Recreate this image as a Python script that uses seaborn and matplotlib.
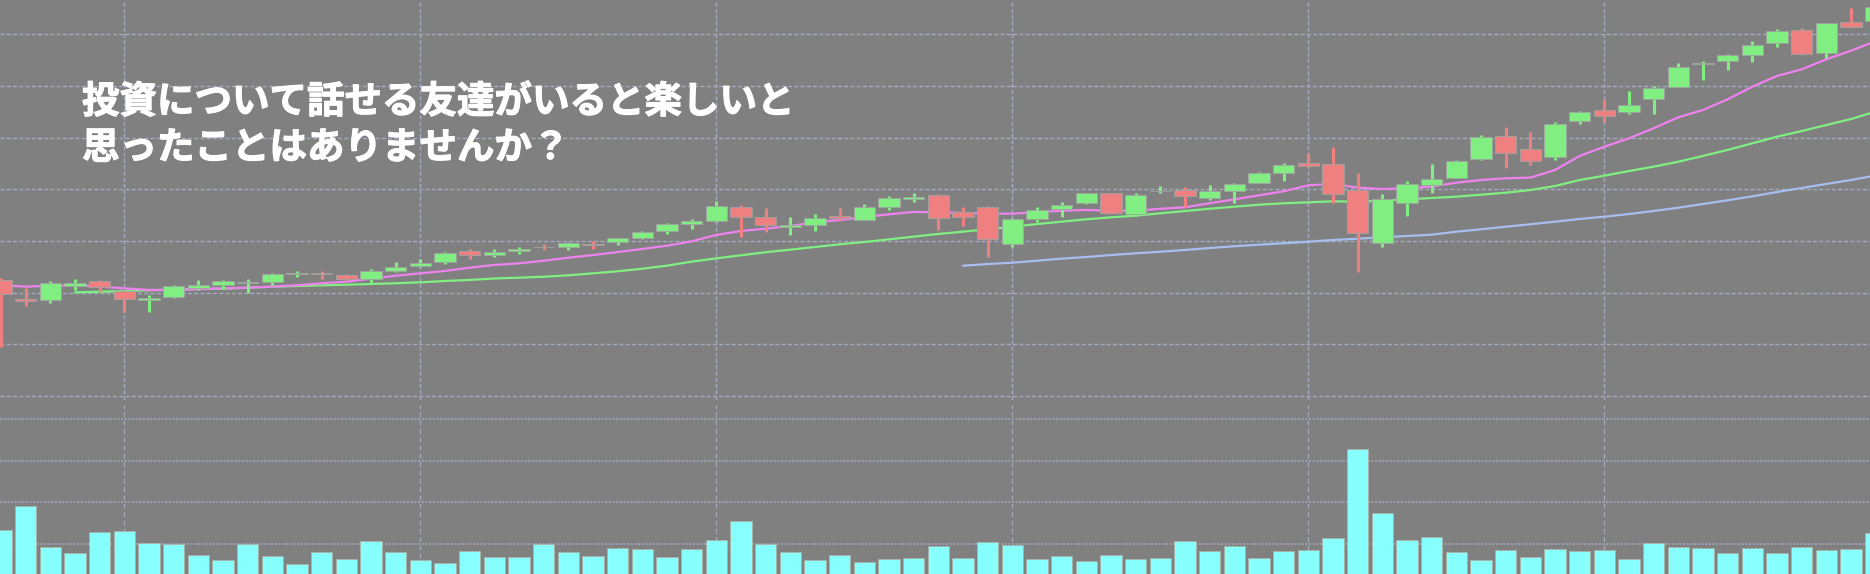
import numpy as np
import pandas as pd
import matplotlib
matplotlib.use("Agg")
import matplotlib.pyplot as plt
import matplotlib.patheffects as pe
import seaborn as sns

# ---------------- data ----------------
opens = [1112.3, 1094.2, 1092.9, 1106.9, 1111.0, 1101.6, 1092.9, 1095.8, 1104.2, 1107.7,
         1109.3, 1110.3, 1118.1, 1119.3, 1117.1, 1113.5, 1121.2, 1126.1, 1129.4, 1140.0,
         1136.4, 1140.0, 1144.3, 1144.2, 1146.7, 1149.3, 1152.9, 1159.7, 1166.4, 1169.6,
         1182.6, 1173.2, 1163.8, 1165.5, 1174.5, 1170.6, 1182.9, 1190.6, 1194.5, 1178.1,
         1182.6, 1147.4, 1171.6, 1181.2, 1186.5, 1196.2, 1176.4, 1198.4, 1199.3, 1191.6,
         1198.7, 1206.4, 1216.1, 1225.5, 1224.8, 1199.6, 1148.3, 1186.5, 1203.7, 1210.7,
         1229.3, 1251.6, 1239.0, 1231.6, 1266.4, 1276.8, 1275.1, 1287.1, 1299.3, 1321.0,
         1323.9, 1330.3, 1341.9, 1354.2, 1332.2, 1361.9, 1363.2]
highs = [1114.2, 1104.2, 1111.0, 1112.9, 1112.3, 1102.6, 1097.7, 1107.7, 1112.3, 1111.8,
         1113.2, 1119.3, 1121.2, 1120.7, 1118.1, 1122.9, 1129.7, 1132.3, 1139.1, 1142.3,
         1141.8, 1143.9, 1147.1, 1149.3, 1150.3, 1153.2, 1159.7, 1167.7, 1171.6, 1189.0,
         1184.8, 1182.2, 1173.2, 1175.8, 1181.6, 1185.8, 1193.5, 1196.7, 1195.5, 1182.9,
         1183.4, 1172.5, 1182.6, 1187.7, 1196.7, 1196.5, 1196.7, 1203.5, 1202.0, 1203.9,
         1206.1, 1216.8, 1225.8, 1234.9, 1240.7, 1215.5, 1195.5, 1207.8, 1224.5, 1228.4,
         1252.6, 1260.6, 1255.5, 1265.4, 1275.8, 1287.4, 1295.4, 1299.7, 1322.2, 1324.2,
         1330.7, 1343.2, 1354.9, 1355.8, 1360.7, 1375.5, 1378.4]
lows = [1047.7, 1087.4, 1090.0, 1102.6, 1100.9, 1081.6, 1081.6, 1094.8, 1102.6, 1103.5,
        1099.4, 1107.7, 1115.4, 1113.2, 1111.6, 1109.1, 1120.3, 1124.5, 1128.0, 1132.9,
        1134.2, 1137.1, 1141.3, 1141.3, 1142.5, 1146.1, 1152.4, 1157.1, 1161.9, 1168.4,
        1154.2, 1159.0, 1156.1, 1160.0, 1169.6, 1170.4, 1180.3, 1188.0, 1160.6, 1164.5,
        1134.8, 1144.2, 1168.7, 1173.5, 1185.5, 1176.4, 1174.2, 1196.2, 1183.2, 1189.7,
        1186.5, 1206.2, 1208.3, 1221.9, 1187.1, 1120.3, 1144.5, 1174.5, 1196.7, 1210.5,
        1228.7, 1220.9, 1223.8, 1228.4, 1263.2, 1265.4, 1272.6, 1273.2, 1299.1, 1306.1,
        1315.8, 1323.5, 1337.7, 1330.3, 1326.8, 1356.8, 1361.9]
closes = [1098.7, 1092.2, 1109.6, 1108.9, 1105.2, 1093.9, 1094.5, 1106.4, 1107.4, 1111.3,
          1110.3, 1118.3, 1119.3, 1117.8, 1113.2, 1121.2, 1125.1, 1129.0, 1138.1, 1136.7,
          1139.6, 1142.5, 1144.2, 1147.8, 1146.6, 1152.6, 1158.7, 1166.4, 1169.1, 1183.9,
          1173.5, 1165.2, 1165.8, 1172.2, 1172.5, 1182.6, 1191.6, 1192.6, 1172.0, 1173.2,
          1151.6, 1171.3, 1180.0, 1184.5, 1196.2, 1176.8, 1194.5, 1198.7, 1193.8, 1198.4,
          1204.9, 1216.1, 1223.5, 1222.9, 1195.8, 1158.0, 1190.9, 1205.2, 1209.7, 1227.7,
          1250.9, 1235.4, 1227.7, 1263.2, 1275.1, 1271.2, 1281.6, 1297.8, 1318.1, 1321.9,
          1329.7, 1339.7, 1353.2, 1330.5, 1360.5, 1357.4, 1376.7]

# moving averages (short from bar 0, mid from bar 3, long from bar 39)
ma_short = [1107.4, 1105.8, 1106.7, 1107.1, 1105.8, 1104.2, 1102.6, 1102.6, 1103.5, 1104.2,
            1104.8, 1105.8, 1107.1, 1109.1, 1110.6, 1113.5, 1116.4, 1118.7, 1121.0, 1124.2,
            1126.8, 1128.4, 1130.9, 1133.8, 1136.4, 1139.3, 1142.3, 1145.4, 1149.7, 1155.8,
            1159.7, 1161.9, 1164.5, 1168.1, 1170.3, 1173.2, 1175.8, 1178.1, 1177.8, 1177.1,
            1176.6, 1176.4, 1177.8, 1179.3, 1180.0, 1179.3, 1179.3, 1181.2, 1182.6, 1186.5,
            1190.3, 1194.2, 1198.1, 1203.9, 1205.2, 1201.6, 1200.3, 1201.0, 1202.7, 1206.4,
            1209.0, 1210.7, 1211.3, 1218.7, 1232.3, 1241.2, 1249.4, 1259.1, 1269.7, 1276.8,
            1287.1, 1299.3, 1309.7, 1316.1, 1325.8, 1334.1, 1343.5]
ma_mid_start = 3
ma_mid = [1100.3, 1100.9, 1101.6, 1102.3, 1102.9, 1103.5, 1103.8, 1104.8, 1105.8, 1106.4,
          1107.1, 1107.7, 1108.4, 1109.1, 1110.0, 1111.3, 1112.3, 1113.7, 1114.5, 1115.4,
          1116.8, 1118.7, 1120.7, 1123.2, 1126.1, 1130.0, 1133.2, 1136.2, 1139.1, 1141.6,
          1144.2, 1146.8, 1149.0, 1151.6, 1154.2, 1156.8, 1159.0, 1161.4, 1163.8, 1166.4,
          1168.7, 1171.0, 1172.9, 1174.5, 1176.8, 1179.0, 1181.2, 1183.2, 1185.1, 1186.5,
          1187.4, 1188.4, 1188.0, 1189.0, 1190.3, 1191.6, 1192.9, 1194.8, 1196.7, 1199.3,
          1203.2, 1209.0, 1213.2, 1217.7, 1221.9, 1226.7, 1232.3, 1238.1, 1244.5, 1250.9,
          1256.4, 1262.2, 1268.0, 1275.3]
ma_long_start = 39
ma_long = [1126.1, 1127.7, 1129.0, 1130.9, 1132.9, 1134.5, 1136.4, 1138.1, 1139.6, 1141.3,
           1143.2, 1144.9, 1146.4, 1147.8, 1149.3, 1151.0, 1152.2, 1153.6, 1154.8, 1156.1,
           1159.0, 1161.3, 1163.8, 1166.2, 1168.7, 1171.3, 1173.5, 1176.1, 1179.0, 1182.2,
           1185.8, 1189.4, 1193.2, 1197.4, 1201.3, 1205.2, 1209.0, 1213.4]

volume = [134, 191, 93, 78, 129, 132, 103, 101, 74, 62,
          99, 71, 52, 81, 65, 108, 82, 62, 54, 84,
          69, 70, 100, 80, 71, 90, 87, 68, 89, 110,
          155, 100, 80, 62, 74, 57, 63, 67, 96, 66,
          104, 97, 65, 71, 59, 74, 64, 66, 107, 83,
          95, 67, 83, 85, 115, 327, 175, 110, 117, 81,
          62, 86, 69, 87, 83, 86, 64, 103, 92, 90,
          78, 90, 78, 94, 86, 89, 127]

price_grid = [1000, 1050, 1100, 1150, 1200, 1250, 1300, 1350]
volume_grid = [100, 200, 300, 400]
time_grid = [5, 17, 29, 41, 53, 65]

caption_lines = ["投資について話せる友達がいると楽しいと", "思ったことはありませんか？"]

# ---------------- style ----------------
BG = "#808080"
GRID = "#a3aac2"
UP = "#80ee80"
DOWN = "#f08080"
VOL = "#88ffff"
C_SHORT = "#ee82ee"
C_MID = "#80ee80"
C_LONG = "#a6bef0"

sns.set_theme(style="darkgrid", rc={"axes.facecolor": BG, "figure.facecolor": BG,
                                    "axes.edgecolor": BG, "grid.color": GRID})
plt.rcParams["font.family"] = ["Noto Sans CJK JP", "DejaVu Sans"]

W, H = 1870, 574
fig = plt.figure(figsize=(W / 100, H / 100), dpi=100, facecolor=BG)

px_per_bar = 24.667
x0_px = 0.97
xlim = (-x0_px / px_per_bar, (W - x0_px) / px_per_bar)

# price panel: pixel rows 0..400
ax = fig.add_axes([0, (H - 400) / H, 1, 400 / H])
# volume panel: pixel rows 405..585.7 (bottom runs below the image)
vbot = 585.67
axv = fig.add_axes([0, (H - vbot) / H, 1, (vbot - 405) / H])

p_per_px = 50 / 51.67
ax.set_ylim(1000 - 4 * p_per_px, 1000 + 396 * p_per_px)
axv.set_ylim(0, (vbot - 405) * 100 / 41.67)

df = pd.DataFrame({"open": opens, "high": highs, "low": lows, "close": closes, "volume": volume})
df["pos"] = np.arange(len(df))
up = df["close"] >= df["open"]
colors = np.where(up, UP, DOWN)

for a in (ax, axv):
    a.set_facecolor(BG)
    a.set_xlim(*xlim)
    a.set_xticks(time_grid)
    a.tick_params(left=False, bottom=False, labelleft=False, labelbottom=False)
    for s in a.spines.values():
        s.set_visible(False)
    a.set_axisbelow(True)

ax.set_yticks(price_grid)
ax.xaxis.grid(True, color=GRID, linestyle=(0, (2.9, 1.6)), linewidth=1.0)
ax.yaxis.grid(True, color=GRID, linestyle=(0, (2.9, 1.6)), linewidth=1.0)
axv.set_yticks(volume_grid)
axv.yaxis.grid(True, color=GRID, linestyle=(0, (1.4, 1.0)), linewidth=1.1)
axv.xaxis.grid(True, color="#a9aec0", linestyle=(0, (4.5, 3.0)), linewidth=0.8)

# moving averages
short_df = pd.DataFrame({"pos": np.arange(len(ma_short)), "ma": ma_short})
mid_df = pd.DataFrame({"pos": np.arange(len(ma_mid)) + ma_mid_start, "ma": ma_mid})
long_df = pd.DataFrame({"pos": np.arange(len(ma_long)) + ma_long_start, "ma": ma_long})
sns.lineplot(data=mid_df, x="pos", y="ma", ax=ax, color=C_MID, linewidth=1.6, zorder=2)
sns.lineplot(data=long_df, x="pos", y="ma", ax=ax, color=C_LONG, linewidth=1.6, zorder=2)
sns.lineplot(data=short_df, x="pos", y="ma", ax=ax, color=C_SHORT, linewidth=1.6, zorder=2)

# candles
ax.vlines(df["pos"], df["low"], df["high"], colors=colors, linewidth=2.2, zorder=3)
body_low = np.minimum(df["open"], df["close"])
body_h = np.abs(df["close"] - df["open"])
ax.bar(df["pos"], body_h, bottom=body_low, width=0.86, color=colors,
       edgecolor="#a2a2a2", linewidth=0.6, zorder=4)

# volume
axv.bar(df["pos"], df["volume"], width=0.86, color=VOL, edgecolor="#b4b0a0",
        linewidth=0.5, zorder=3)

for a in (ax, axv):
    a.set_xlabel("")
    a.set_ylabel("")
    a.set_xlim(*xlim)

# caption (heavy white lettering)
for k, line in enumerate(caption_lines):
    fig.text(82 / W, 1 - (113 + 46 * k) / H, line, ha="left", va="baseline",
             fontsize=27, fontweight="bold", color="white",
             path_effects=[pe.withStroke(linewidth=0.8, foreground="white")])

fig.savefig("out.png", dpi=100, facecolor=BG)
